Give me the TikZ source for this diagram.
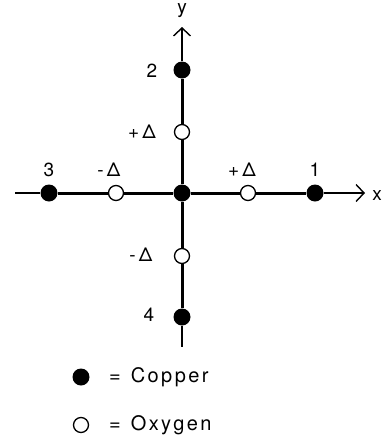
\documentclass[tikz,border=0pt]{standalone}
\usepackage{fontspec}
\setmainfont{TeX Gyre Heros}
\newfontfamily\legendfont[LetterSpace=12]{TeX Gyre Heros}
\usepackage{tikz}
\usetikzlibrary{positioning,arrows.meta,backgrounds}
\tikzset{
  cu/.style={circle,fill=black,inner sep=0pt,minimum size=17pt},
  ox/.style={circle,draw=black,fill=white,line width=1.3pt,inner sep=0pt,minimum size=15pt},
  bond/.style={line width=3pt},
  axis/.style={line width=1.4pt},
  lbl/.style={font=\fontsize{19}{19}\selectfont,inner sep=0pt},
  tip/.style={-{Straight Barb[length=8pt,width=17pt,line width=1.4pt]}}
}

\begin{document}
\begin{tikzpicture}[x=1pt,y=-1pt]
\useasboundingbox (0,0) rectangle (383,437);
% atoms
\node[cu] (cu0) at (182,193) {};
\node[cu] (cu1) at (315,193) {};
\node[cu] (cu2) at (182,70) {};
\node[cu] (cu3) at (49,193) {};
\node[cu] (cu4) at (182,317) {};
\node[ox] (ox1) at (248,193) {};
\node[ox] (ox2) at (182,132) {};
\node[ox] (ox3) at (116,193) {};
\node[ox] (ox4) at (182,256) {};
% axis ends
\coordinate (xl) at (15,193);
\coordinate (xr) at (365,193);
\coordinate (yt) at (182,27);
\coordinate (yb) at (182,347);
\begin{scope}[on background layer]
\draw[bond] (cu3) -- (ox3) -- (cu0) -- (ox1) -- (cu1);
\draw[bond] (cu2) -- (ox2) -- (cu0) -- (ox4) -- (cu4);
\draw[axis] (xl) -- (cu3);
\draw[axis] (cu4) -- (yb);
\draw[axis,tip] (cu1) -- (xr);
\draw[axis,tip] (cu2) -- (yt);
\end{scope}
% labels
\node[lbl,anchor=east] (lx) at (382,196) {x};
\node[lbl] (ly) at (182,11) {y};
\node[lbl] (l1) at (315,170) {1};
\node[lbl] (l2) at (152,71) {2};
\node[lbl] (l3) at (49,170) {3};
\node[lbl] (l4) at (149,315) {4};
\node[lbl] (d1) at (242,170) {+\,Δ};
\node[lbl] (d2) at (142,132) {+\,Δ};
\node[lbl] (d3) at (109,170) {-\,Δ};
\node[lbl] (d4) at (141,255) {-\,Δ};
% legend
\node[cu] (kcu) at (81,377) {};
\node[ox] (kox) at (81,425) {};
\node[lbl,anchor=west,font=\legendfont\fontsize{20}{20}\selectfont] (tcu) at (109,377) {=\hspace{10pt}Copper};
\node[lbl,anchor=west,font=\legendfont\fontsize{20}{20}\selectfont] (tox) at (109,425) {=\hspace{10pt}Oxygen};
\end{tikzpicture}
\end{document}
